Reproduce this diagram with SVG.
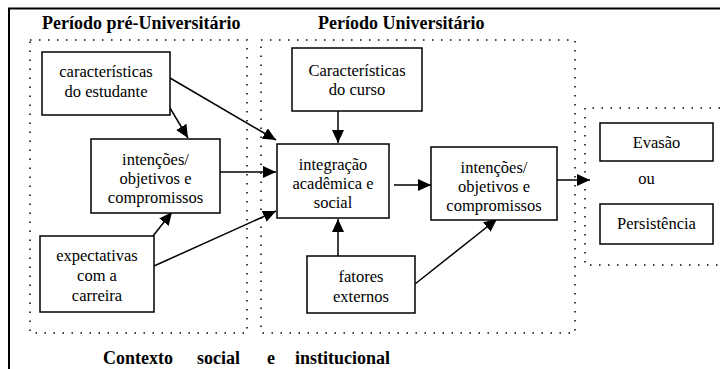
<svg xmlns="http://www.w3.org/2000/svg" width="720" height="369" viewBox="0 0 720 369">
<defs>
<marker id="ah" markerUnits="userSpaceOnUse" markerWidth="14" markerHeight="12" refX="13" refY="6" orient="auto">
<path d="M0,0 L13,6 L0,12 z" fill="#000"/>
</marker>
</defs>
<style>
.box{fill:#fff;stroke:#000;stroke-width:1.5}
.dot{fill:none;stroke:#000;stroke-width:1.5;stroke-dasharray:1.5 7.5}
.t{font-family:"Liberation Serif","Times New Roman",serif;font-size:16.5px;text-anchor:middle;fill:#000}
.h{font-family:"Liberation Serif","Times New Roman",serif;font-size:18px;font-weight:bold;fill:#000}
.c{stroke:#000;stroke-width:1.5;fill:none;marker-end:url(#ah)}
</style>
<rect width="720" height="369" fill="#fff"/>
<g id="frame">
<path d="M9,369 V8.5 H720" fill="none" stroke="#000" stroke-width="2"/>
<path class="dot" d="M30,40 H247 V333 H30 Z"/>
<path class="dot" d="M261,40 H575 V333 H261 Z"/>
<path class="dot" d="M720,108 H585 V265 H720"/>
<text class="h" x="42" y="29">Período pré-Universitário</text>
<text class="h" x="318" y="29">Período Universitário</text>
<text class="h" y="364"><tspan x="103">Contexto</tspan><tspan x="197">social</tspan><tspan x="267">e</tspan><tspan x="295">institucional</tspan></text>
</g>
<g id="connectors">
<line class="c" x1="170" y1="108" x2="188" y2="138"/>
<line class="c" x1="170" y1="78" x2="276" y2="140"/>
<line class="c" x1="213" y1="172" x2="276" y2="172"/>
<line class="c" x1="154" y1="266" x2="276" y2="211"/>
<line class="c" x1="153" y1="236" x2="172" y2="212"/>
<line class="c" x1="338" y1="111" x2="338" y2="143"/>
<line class="c" x1="338" y1="256" x2="338" y2="219"/>
<line class="c" x1="415" y1="284" x2="497" y2="219"/>
<line class="c" x1="394" y1="185" x2="431" y2="185"/>
<line class="c" x1="557" y1="180" x2="590" y2="180"/>
</g>
<g id="n-estudante">
<rect class="box" x="42" y="52" width="128" height="63"/>
<text class="t" x="106" y="77">características</text>
<text class="t" x="106" y="97">do estudante</text>
</g>
<g id="n-intencoes1">
<rect class="box" x="91" y="139" width="129" height="74"/>
<text class="t" x="155.5" y="165">intenções/</text>
<text class="t" x="155.5" y="184">objetivos e</text>
<text class="t" x="155.5" y="203">compromissos</text>
</g>
<g id="n-expectativas">
<rect class="box" x="40" y="236" width="114" height="76"/>
<text class="t" x="97" y="261">expectativas</text>
<text class="t" x="97" y="281">com a</text>
<text class="t" x="97" y="301">carreira</text>
</g>
<g id="n-curso">
<rect class="box" x="292" y="48" width="130" height="63"/>
<text class="t" x="357" y="76">Características</text>
<text class="t" x="357" y="95">do curso</text>
</g>
<g id="n-integracao">
<rect class="box" x="277" y="144" width="112" height="74"/>
<text class="t" x="333" y="170">integração</text>
<text class="t" x="333" y="189">acadêmica e</text>
<text class="t" x="333" y="208">social</text>
</g>
<g id="n-intencoes2">
<rect class="box" x="431" y="147" width="126" height="73"/>
<text class="t" x="494" y="173">intenções/</text>
<text class="t" x="494" y="192">objetivos e</text>
<text class="t" x="494" y="211">compromissos</text>
</g>
<g id="n-fatores">
<rect class="box" x="307" y="256" width="108" height="57"/>
<text class="t" x="361" y="282">fatores</text>
<text class="t" x="361" y="302">externos</text>
</g>
<g id="n-evasao">
<rect class="box" x="600" y="123" width="113" height="38"/>
<text class="t" x="656.5" y="148">Evasão</text>
</g>
<text class="t" x="646.5" y="184">ou</text>
<g id="n-persistencia">
<rect class="box" x="600" y="204" width="113" height="40"/>
<text class="t" x="656.5" y="229">Persistência</text>
</g>
</svg>
